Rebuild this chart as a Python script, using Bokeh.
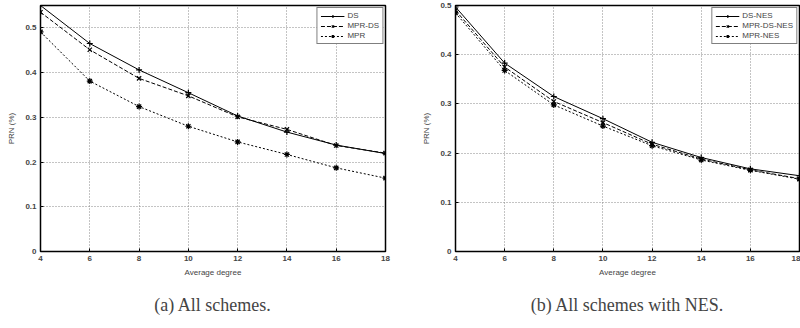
from bokeh.plotting import figure
from bokeh.layouts import row
from bokeh.models import Range1d, FixedTicker, Title, Legend, LegendItem
from bokeh.embed import file_html
from bokeh.resources import INLINE

degree = [4, 6, 8, 10, 12, 14, 16, 18]
ds = [0.550, 0.465, 0.406, 0.355, 0.303, 0.267, 0.238, 0.219]
mpr_ds = [0.535, 0.451, 0.387, 0.348, 0.301, 0.273, 0.237, 0.220]
mpr = [0.491, 0.381, 0.324, 0.280, 0.245, 0.217, 0.187, 0.164]
ds_nes = [0.497, 0.383, 0.315, 0.270, 0.222, 0.191, 0.168, 0.154]
mpr_ds_nes = [0.490, 0.375, 0.305, 0.262, 0.218, 0.188, 0.166, 0.148]
mpr_nes = [0.485, 0.368, 0.298, 0.255, 0.215, 0.186, 0.165, 0.147]
x_ticks = [4, 6, 8, 10, 12, 14, 16, 18]
y_ticks = [0, 0.1, 0.2, 0.3, 0.4, 0.5]

FONT = "Liberation Sans"


def make_plot(ymax, border_left, border_right, caption, series):
    p = figure(width=400, height=328, output_backend="svg", toolbar_location=None,
               x_range=Range1d(4, 18), y_range=Range1d(0, ymax),
               min_border_left=border_left, min_border_right=border_right,
               min_border_top=5, min_border_bottom=20)
    p.background_fill_color = "white"
    p.border_fill_color = "white"
    p.outline_line_color = "black"
    p.outline_line_width = 1.5
    for ax in (p.xaxis[0], p.yaxis[0]):
        ax.axis_line_color = None
        ax.major_tick_in = 3
        ax.major_tick_out = 0
        ax.minor_tick_line_color = None
        ax.major_label_text_font = FONT
        ax.major_label_text_font_size = "8px"
        ax.major_label_text_font_style = "bold"
        ax.axis_label_text_font = FONT
        ax.axis_label_text_font_size = "8px"
        ax.axis_label_text_font_style = "normal"
    p.xaxis[0].ticker = FixedTicker(ticks=x_ticks)
    p.yaxis[0].ticker = FixedTicker(ticks=y_ticks)
    p.xaxis[0].axis_label = "Average degree"
    p.yaxis[0].axis_label = "PRN (%)"
    p.xaxis[0].major_label_standoff = 4
    p.xaxis[0].axis_label_standoff = 4
    p.yaxis[0].major_label_standoff = 4
    p.yaxis[0].axis_label_standoff = 6
    p.grid.grid_line_color = "#888888"
    p.grid.grid_line_dash = "1 2"
    p.grid.grid_line_width = 1

    items = []
    for name, vals, dash, marker in series:
        l = p.line(degree, vals, line_color="black", line_width=1, line_dash=dash)
        s = p.scatter(degree, vals, marker=marker, size=6, line_color="black",
                      fill_color="black", line_width=1.2)
        items.append(LegendItem(label=name, renderers=[l, s]))
    leg = Legend(items=items, location="top_right")
    leg.label_text_font = FONT
    leg.label_text_font_size = "8px"
    leg.label_height = 8
    leg.glyph_height = 8
    leg.glyph_width = 24
    leg.spacing = 1
    leg.padding = 3
    leg.margin = 2
    leg.border_line_color = "black"
    leg.border_line_width = 1
    leg.label_standoff = 3
    p.add_layout(leg, "center")

    t = Title(text=caption, align="center", text_font="Liberation Serif",
              text_font_size="18px", text_font_style="normal", standoff=27)
    p.add_layout(t, "below")
    return p


p1 = make_plot(0.55, 40, 15, "(a) All schemes.", [
    ("DS", ds, "solid", "cross"),
    ("MPR-DS", mpr_ds, "4 2", "x"),
    ("MPR", mpr, "2 2", "asterisk"),
])
p2 = make_plot(0.5, 55, 1, "(b) All schemes with NES.", [
    ("DS-NES", ds_nes, "solid", "cross"),
    ("MPR-DS-NES", mpr_ds_nes, "4 2", "x"),
    ("MPR-NES", mpr_nes, "2 2", "asterisk"),
])

layout = row(p1, p2)
open("out.html", "w").write(file_html(layout, INLINE))
